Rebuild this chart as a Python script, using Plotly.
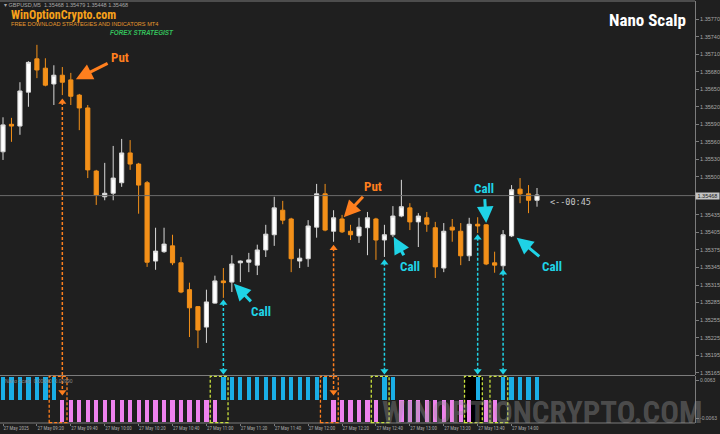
import plotly.graph_objects as go

# ---------------- data ----------------
bar_index = list(range(64))
open_ = [1.35543, 1.35590, 1.35587, 1.35645, 1.35702, 1.35686, 1.35659, 1.35674, 1.35666, 1.35640,
         1.35618, 1.35510, 1.35466, 1.35472, 1.35490, 1.35541, 1.35522, 1.35490, 1.35356, 1.35372,
         1.35382, 1.35353, 1.35307, 1.35278, 1.35243, 1.35284, 1.35322, 1.35320, 1.35353, 1.35354,
         1.35349, 1.35375, 1.35401, 1.35443, 1.35428, 1.35356, 1.35360, 1.35414, 1.35471, 1.35407,
         1.35428, 1.35407, 1.35399, 1.35413, 1.35428, 1.35392, 1.35401, 1.35433, 1.35447, 1.35423,
         1.35430, 1.35413, 1.35344, 1.35414, 1.35407, 1.35365, 1.35419, 1.35418, 1.35353, 1.35348,
         1.35399, 1.35479, 1.35471, 1.35460]
high = [1.35602, 1.35601, 1.35662, 1.35698, 1.35726, 1.35703, 1.35691, 1.35688, 1.35678, 1.35642,
        1.35623, 1.35512, 1.35524, 1.35553, 1.35565, 1.35563, 1.35524, 1.35493, 1.35413, 1.35413,
        1.35401, 1.35363, 1.35319, 1.35279, 1.35307, 1.35331, 1.35344, 1.35366, 1.35357, 1.35370,
        1.35384, 1.35418, 1.35466, 1.35459, 1.35430, 1.35377, 1.35426, 1.35488, 1.35488, 1.35443,
        1.35435, 1.35418, 1.35430, 1.35440, 1.35430, 1.35418, 1.35450, 1.35495, 1.35455, 1.35438,
        1.35440, 1.35423, 1.35421, 1.35428, 1.35421, 1.35430, 1.35431, 1.35419, 1.35372, 1.35409,
        1.35486, 1.35498, 1.35486, 1.35481]
low = [1.35529, 1.35560, 1.35572, 1.35620, 1.35669, 1.35655, 1.35623, 1.35640, 1.35623, 1.35580,
       1.35498, 1.35452, 1.35460, 1.35460, 1.35483, 1.35512, 1.35437, 1.35346, 1.35341, 1.35370,
       1.35349, 1.35301, 1.35226, 1.35207, 1.35216, 1.35283, 1.35293, 1.35303, 1.35320, 1.35337,
       1.35332, 1.35363, 1.35382, 1.35419, 1.35337, 1.35344, 1.35346, 1.35396, 1.35407, 1.35389,
       1.35404, 1.35392, 1.35387, 1.35366, 1.35358, 1.35363, 1.35397, 1.35431, 1.35409, 1.35380,
       1.35406, 1.35327, 1.35337, 1.35389, 1.35349, 1.35356, 1.35404, 1.35349, 1.35336, 1.35341,
       1.35397, 1.35455, 1.35438, 1.35449]
close = [1.35589, 1.35587, 1.35647, 1.35696, 1.35683, 1.35657, 1.35674, 1.35662, 1.35638, 1.35618,
         1.35512, 1.35469, 1.35472, 1.35498, 1.35541, 1.35522, 1.35486, 1.35354, 1.35373, 1.35385,
         1.35353, 1.35303, 1.35276, 1.35238, 1.35286, 1.35322, 1.35319, 1.35351, 1.35356, 1.35358,
         1.35375, 1.35402, 1.35447, 1.35426, 1.35360, 1.35361, 1.35416, 1.35471, 1.35409, 1.35430,
         1.35406, 1.35401, 1.35414, 1.35430, 1.35392, 1.35401, 1.35433, 1.35449, 1.35423, 1.35433,
         1.35419, 1.35346, 1.35407, 1.35409, 1.35365, 1.35419, 1.35416, 1.35351, 1.35349, 1.35401,
         1.35478, 1.35471, 1.35460, 1.35469]

# histogram of the Nano Scalp indicator: +1 = up (blue), -1 = down (violet)
signal = [1] * 7 + [-1] * 19 + [1] * 13 + [-1] * 6 + [1] * 2 + [-1] * 9 + [1] * 1 + [-1] * 2 + [1] * 5

current_price = 1.35468
price_ticks = [1.35770, 1.35740, 1.35710, 1.35680, 1.35650, 1.35620, 1.35590, 1.35560, 1.35530, 1.35500,
               1.35435, 1.35405, 1.35375, 1.35345, 1.35315, 1.35285, 1.35255, 1.35225, 1.35195, 1.35165]
time_ticks = [0, 4, 8, 12, 16, 20, 24, 28, 32, 36, 40, 44, 48, 52, 56, 60]
time_labels = ["27 May 2025", "27 May 09:20", "27 May 09:40", "27 May 10:00", "27 May 10:20",
               "27 May 10:40", "27 May 11:00", "27 May 11:20", "27 May 11:40", "27 May 12:00",
               "27 May 12:20", "27 May 12:40", "27 May 13:00", "27 May 13:20", "27 May 13:40",
               "27 May 14:00"]
osc_ticks = [0.85, -0.85]
osc_labels = ["0.0063", "-0.0063"]

# signals (bar index where the signal fires, and the price where the dotted arrow ends)
put_bars = [7, 39]
put_tips = [1.35628, 1.35378]
call_bars = [26, 45, 56, 59]
call_tips = [1.35284, 1.35353, 1.35396, 1.35336]

# labelled arrows: text, target bar, target price, text offset (px)
note_text = ["Put", "Put", "Call", "Call", "Call", "Call"]
note_bar = [8.6, 40.2, 27.25, 46.1, 57.0, 60.6]
note_price = [1.35667, 1.35431, 1.35317, 1.35397, 1.35421, 1.35396]
note_dx = [44, 29, 27, 16, -2, 35]
note_dy = [-22, -31, 28, 29, -35, 29]

# ---------------- style ----------------
BG = "#1f1f1f"
ORANGE = "#f39019"
PUT_C = "#ff7f1e"
CALL_C = "#1fd3e6"
BOX_Y = "#c8e03c"
AXC = "#7c7c7c"
TXT = "#a8a8a8"
NARROW = "Liberation Sans Narrow, Arial Narrow, Roboto Condensed, Liberation Sans, sans-serif"

W, H = 720, 434
def py(p):  # pixel row -> paper y
    return 1 - p / H

XR = [-0.354, 81.64]
XD = [0, 695 / W]
main_dom = [py(375), py(1)]
sub_dom = [py(423), py(376)]
YR = [1.35161, 1.35801]
Y2R = [-1.05, 1.05]

fig = go.Figure()

fig.add_trace(go.Candlestick(
    x=bar_index, open=open_, high=high, low=low, close=close,
    increasing=dict(line=dict(color="#d8d8d8", width=1), fillcolor="#ffffff"),
    decreasing=dict(line=dict(color=ORANGE, width=1), fillcolor=ORANGE),
    whiskerwidth=0, xaxis="x", yaxis="y", hoverinfo="skip", showlegend=False))

bar_colors = ["#1aaee6" if s > 0 else "#ee82ee" for s in signal]
fig.add_trace(go.Bar(x=bar_index, y=signal, marker=dict(color=bar_colors, line=dict(width=0)),
                     width=0.5, xaxis="x2", yaxis="y2", hoverinfo="skip", showlegend=False))

shapes = []
# black area behind one of the call boxes
shapes.append(dict(type="rect", xref="x2", yref="y2 domain", x0=call_bars[2] - 1.55, x1=call_bars[2] + 0.55,
                   y0=0, y1=1, fillcolor="#000000", line=dict(width=0), layer="below"))
# frame lines
for yy in [1, 375.5, 423]:
    shapes.append(dict(type="line", xref="paper", yref="paper", x0=0, x1=XD[1], y0=py(yy), y1=py(yy),
                       line=dict(color=AXC, width=1)))
# current price line
shapes.append(dict(type="line", xref="paper", yref="y", x0=0, x1=XD[1], y0=current_price, y1=current_price,
                   line=dict(color="#6a6a6a", width=1)))

tri_up_x, tri_up_y, tri_up_c = [], [], []
for b, t in zip(put_bars, put_tips):
    shapes.append(dict(type="line", xref="x", yref="y", x0=b, x1=b, y0=t, y1=YR[0],
                       line=dict(color=PUT_C, width=1.5, dash="3px,2px")))
    shapes.append(dict(type="line", xref="x2", yref="y2", x0=b, x1=b, y0=Y2R[1], y1=0.4,
                       line=dict(color=PUT_C, width=1.5, dash="3px,2px")))
    shapes.append(dict(type="rect", xref="x2", yref="y2 domain", x0=b - 1.55, x1=b + 0.55, y0=0.01, y1=0.99,
                       line=dict(color=PUT_C, width=1.3, dash="3px,2px")))
    tri_up_x.append(b); tri_up_y.append(t); tri_up_c.append(PUT_C)
for b, t in zip(call_bars, call_tips):
    shapes.append(dict(type="line", xref="x", yref="y", x0=b, x1=b, y0=t, y1=1.35170,
                       line=dict(color=CALL_C, width=1.5, dash="3px,2px")))
    shapes.append(dict(type="rect", xref="x2", yref="y2 domain", x0=b - 1.55, x1=b + 0.55, y0=0.01, y1=0.99,
                       line=dict(color=BOX_Y, width=1.3, dash="3px,2px")))
    tri_up_x.append(b); tri_up_y.append(t); tri_up_c.append(CALL_C)

fig.add_trace(go.Scatter(x=tri_up_x, y=tri_up_y, mode="markers", xaxis="x", yaxis="y",
                         marker=dict(symbol="triangle-up", size=7, color=tri_up_c),
                         hoverinfo="skip", showlegend=False, cliponaxis=False))
fig.add_trace(go.Scatter(x=call_bars, y=[1.35168] * len(call_bars), mode="markers", xaxis="x", yaxis="y",
                         marker=dict(symbol="triangle-down", size=7, color=CALL_C),
                         hoverinfo="skip", showlegend=False, cliponaxis=False))
fig.add_trace(go.Scatter(x=put_bars, y=[0.33] * len(put_bars), mode="markers", xaxis="x2", yaxis="y2",
                         marker=dict(symbol="triangle-down", size=7, color=PUT_C),
                         hoverinfo="skip", showlegend=False, cliponaxis=False))

ann = []
for t, xb, yp, dx, dy in zip(note_text, note_bar, note_price, note_dx, note_dy):
    c = PUT_C if t == "Put" else CALL_C
    ann.append(dict(x=xb, y=yp, xref="x", yref="y", ax=dx, ay=dy, text="<b>%s</b>" % t,
                    showarrow=True, arrowhead=2, arrowsize=1.1, arrowwidth=3, arrowcolor=c,
                    standoff=0, startstandoff=2,
                    font=dict(family=NARROW, size=13, color=c)))

# header texts
ann.append(dict(x=2 / W, y=py(5), xref="paper", yref="paper", xanchor="left", yanchor="middle", showarrow=False,
                text="▾ GBPUSD,M5  1.35468 1.35479 1.35448 1.35468", font=dict(family="Liberation Sans", size=5.5, color=TXT)))
ann.append(dict(x=9 / W, y=py(14.5), xref="paper", yref="paper", xanchor="left", yanchor="middle", showarrow=False,
                text="<b>WinOptionCrypto.com</b>", font=dict(family=NARROW, size=12, color="#f7a21b")))
ann.append(dict(x=9 / W, y=py(24), xref="paper", yref="paper", xanchor="left", yanchor="middle", showarrow=False,
                text="FREE DOWNLOAD STRATEGIES AND INDICATORS MT4", font=dict(family="Liberation Sans", size=5.6, color="#e69a2e")))
ann.append(dict(x=108 / W, y=py(32.5), xref="paper", yref="paper", xanchor="left", yanchor="middle", showarrow=False,
                text="<b><i>FOREX STRATEGIST</i></b>", font=dict(family="Liberation Sans", size=6.3, color="#34c25c")))
ann.append(dict(x=688 / W, y=py(20), xref="paper", yref="paper", xanchor="right", yanchor="middle", showarrow=False,
                text="<b>Nano Scalp</b>", font=dict(family=NARROW, size=17, color="#ffffff")))
# countdown
ann.append(dict(x=64.3, y=1.35457, xref="x", yref="y", xanchor="left", yanchor="middle", showarrow=False,
                text="<--00:45", font=dict(family="DejaVu Sans Mono", size=8.5, color="#c8c8c8")))
# current price tag
ann.append(dict(x=XD[1], y=current_price, xref="paper", yref="y", xanchor="left", yanchor="middle", showarrow=False,
                text=" 1.35468 ", bgcolor="#c4c4c4", borderpad=0,
                font=dict(family="Liberation Sans", size=5.5, color="#202020")))
# indicator label
ann.append(dict(x=3 / W, y=py(381), xref="paper", yref="paper", xanchor="left", yanchor="middle", showarrow=False,
                text="Nano Scalp  0.00000  0.00990", font=dict(family="Liberation Sans", size=5, color="#8a8a8a")))
# watermark
ann.append(dict(x=704 / W, y=py(412), xref="paper", yref="paper", xanchor="right", yanchor="middle", showarrow=False,
                text="<b>WINOPTIONCRYPTO.COM</b>", font=dict(family=NARROW, size=31, color="rgba(150,150,150,0.40)")))

fig.update_layout(
    width=W, height=H, margin=dict(l=0, r=0, t=0, b=0, autoexpand=False),
    paper_bgcolor=BG, plot_bgcolor=BG, showlegend=False, bargap=0,
    shapes=shapes, annotations=ann,
    xaxis=dict(domain=XD, range=XR, anchor="y", showticklabels=False, showgrid=False, zeroline=False,
               rangeslider=dict(visible=False), fixedrange=True, automargin=False),
    yaxis=dict(domain=main_dom, range=YR, side="right", anchor="x", tickvals=price_ticks,
               ticktext=["%.5f" % v for v in price_ticks], ticks="outside", ticklen=3, tickcolor=AXC,
               tickfont=dict(family="Liberation Sans", size=5.5, color=TXT), showgrid=False, zeroline=False,
               showline=True, linecolor=AXC, linewidth=1, automargin=False),
    xaxis2=dict(domain=XD, range=XR, anchor="y2", tickvals=time_ticks, ticktext=time_labels,
                ticklabelposition="outside right", tickangle=0, ticks="outside", ticklen=2, tickcolor=AXC,
                tickfont=dict(family=NARROW, size=5, color=TXT), showgrid=False, zeroline=False,
                automargin=False),
    yaxis2=dict(domain=sub_dom, range=Y2R, side="right", anchor="x2", tickvals=osc_ticks, ticktext=osc_labels,
                ticks="outside", ticklen=3, tickcolor=AXC,
                tickfont=dict(family="Liberation Sans", size=5, color=TXT), showgrid=False, zeroline=False,
                showline=True, linecolor=AXC, linewidth=1, automargin=False),
)

fig.write_html("out.html", config={"displayModeBar": False},
               post_script="document.body.style.margin='0';document.body.style.overflow='hidden';")
